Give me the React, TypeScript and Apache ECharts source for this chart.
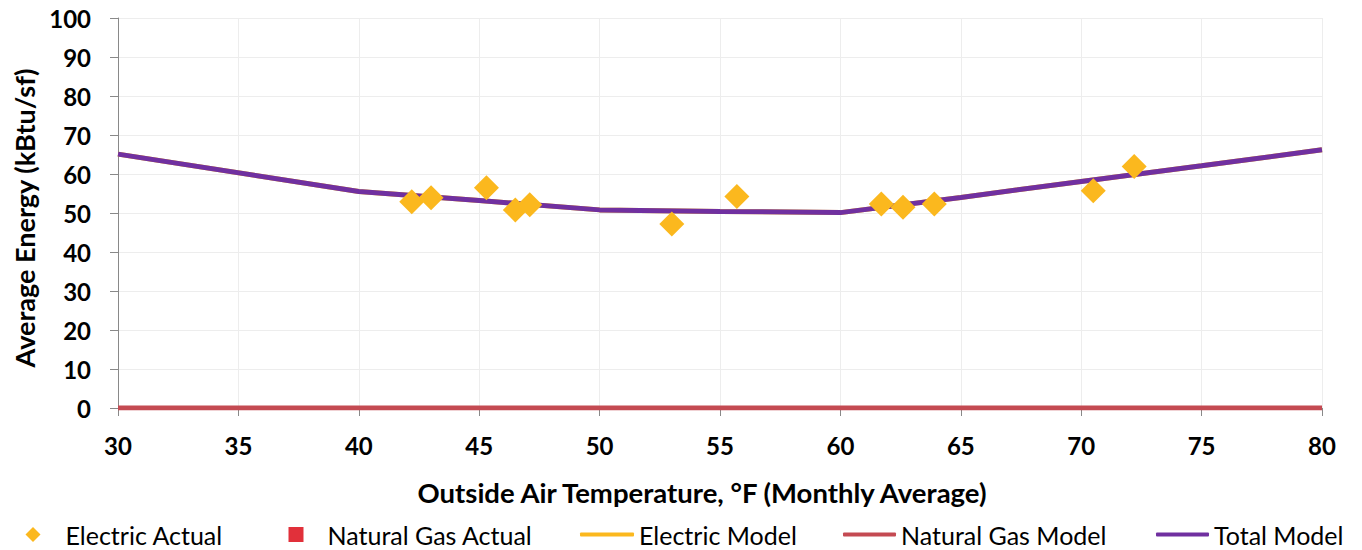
import React, { useEffect, useRef } from "react";
import * as echarts from "echarts";

const electricActualTemp = [42.2, 43.0, 45.3, 46.5, 47.1, 53.0, 55.7, 61.7, 62.6, 63.9, 70.5, 72.2];
const electricActualEnergy = [52.9, 53.9, 56.5, 50.8, 52.1, 47.2, 54.2, 52.3, 51.5, 52.3, 55.7, 61.9];

const modelTemp = [30, 40, 45, 50, 55, 60, 65, 70, 75, 80];
const totalModel = [65.1, 55.5, 53.2, 50.8, 50.4, 50.1, 54.0, 58.1, 62.1, 66.2];
const electricModel = [65.1, 55.5, 53.2, 50.8, 50.4, 50.1, 54.0, 58.1, 62.1, 66.2];
const gasModelTemp = [30, 80];
const gasModel = [0, 0];

const FONT = "Lato";

export default function App() {
  const ref = useRef<HTMLDivElement>(null);
  useEffect(() => {
    if (!ref.current) return;
    const chart = echarts.init(ref.current, undefined, { renderer: "svg" });
    const pair = (xs: number[], ys: number[]) => xs.map((x, i) => [x, ys[i]]);
    const mkLegend = (
      name: string,
      icon: string,
      left: number,
      itemWidth: number,
      itemHeight: number,
      padLeft: number
    ) => ({
      data: [{ name, icon }],
      left,
      top: 522,
      orient: "horizontal",
      itemWidth,
      itemHeight,
      padding: 0,
      itemStyle: { opacity: 1 },
      textStyle: {
        fontFamily: FONT,
        fontSize: 25,
        color: "#000",
        padding: [0, 0, 0, padLeft],
        verticalAlign: "middle",
      },
      selectedMode: false,
    });
    chart.setOption({
      animation: false,
      backgroundColor: "#fff",
      grid: { left: 118, right: 40, top: 18, bottom: 142, outerBoundsMode: "none", containLabel: false },
      legend: [
        mkLegend("Electric Actual", "diamond", 25.5, 15, 15, 20),
        mkLegend("Natural Gas Actual", "rect", 288.5, 15, 15, 19),
        mkLegend("Electric Model", "roundRect", 580, 54, 4, 0),
        mkLegend("Natural Gas Model", "roundRect", 843, 53, 4, 0),
        mkLegend("Total Model", "roundRect", 1156, 53, 4, 0),
      ],
      xAxis: {
        type: "value",
        min: 30,
        max: 80,
        interval: 5,
        name: "Outside Air Temperature, °F (Monthly Average)",
        nameLocation: "middle",
        nameGap: 70,
        nameTextStyle: {
          fontFamily: FONT,
          fontWeight: "bold",
          fontSize: 27.5,
          color: "#000",
          padding: [0, 36, 0, 0],
        },
        axisLine: { show: true, lineStyle: { color: "#898989", width: 1 } },
        axisTick: { show: true, length: 8, lineStyle: { color: "#898989" } },
        axisLabel: { fontFamily: FONT, fontWeight: "bold", fontSize: 24, color: "#000", margin: 25 },
        splitLine: { show: true, lineStyle: { color: "#EDEDED", width: 1 } },
      },
      yAxis: {
        type: "value",
        min: 0,
        max: 100,
        interval: 10,
        name: "Average Energy (kBtu/sf)",
        nameLocation: "middle",
        nameGap: 80,
        nameTextStyle: {
          fontFamily: FONT,
          fontWeight: "bold",
          fontSize: 27,
          color: "#000",
          padding: [0, 10, 0, 0],
        },
        axisLine: { show: true, lineStyle: { color: "#898989", width: 1 } },
        axisTick: { show: true, length: 8, lineStyle: { color: "#898989" } },
        axisLabel: { fontFamily: FONT, fontWeight: "bold", fontSize: 24, color: "#000", margin: 27 },
        splitLine: { show: true, lineStyle: { color: "#EDEDED", width: 1 } },
      },
      series: [
        {
          name: "Electric Actual",
          type: "scatter",
          symbol: "diamond",
          symbolSize: 25,
          itemStyle: { color: "#FBB81E", opacity: 1 },
          data: pair(electricActualTemp, electricActualEnergy),
          z: 10,
        },
        {
          name: "Natural Gas Actual",
          type: "scatter",
          symbol: "rect",
          symbolSize: 15,
          itemStyle: { color: "#E1303A", opacity: 1 },
          data: [],
          z: 10,
        },
        {
          name: "Electric Model",
          type: "line",
          symbol: "none",
          lineStyle: { color: "#FBB81E", width: 5 },
          itemStyle: { color: "#FBB81E" },
          data: pair(modelTemp, electricModel),
          z: 2,
        },
        {
          name: "Natural Gas Model",
          type: "line",
          symbol: "none",
          lineStyle: { color: "#C44A52", width: 5 },
          itemStyle: { color: "#C44A52" },
          data: pair(gasModelTemp, gasModel),
          z: 3,
        },
        {
          name: "Total Model",
          type: "line",
          symbol: "none",
          lineStyle: { color: "#7030A0", width: 5 },
          itemStyle: { color: "#7030A0" },
          data: pair(modelTemp, totalModel),
          z: 4,
        },
      ],
    });
    return () => chart.dispose();
  }, []);
  return (
    <div
      ref={ref}
      style={{ position: "fixed", left: 0, top: 0, width: 1362, height: 550 }}
    />
  );
}
